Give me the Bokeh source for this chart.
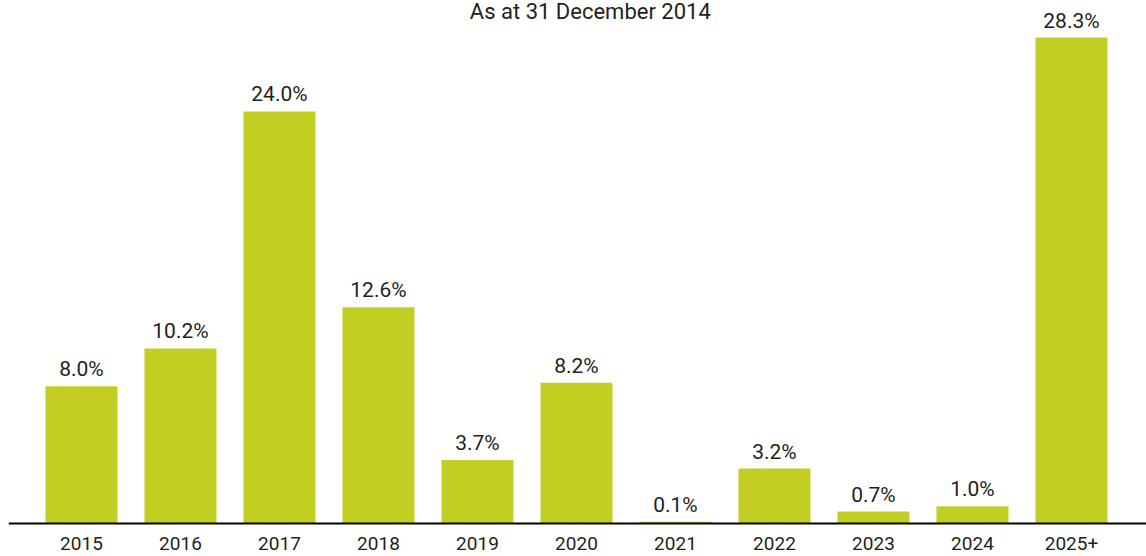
from bokeh.plotting import figure
from bokeh.models import ColumnDataSource, Range1d, FixedTicker, LabelSet, Label
from bokeh.core.properties import value
from bokeh.embed import file_html
from bokeh.resources import INLINE

categories = ["2015", "2016", "2017", "2018", "2019", "2020", "2021", "2022", "2023", "2024", "2025+"]
values = [8.0, 10.2, 24.0, 12.6, 3.7, 8.2, 0.1, 3.2, 0.7, 1.0, 28.3]
value_labels = ["%.1f%%" % v for v in values]
title_text = "As at 31 December 2014"

BAR = "#c3ce23"
TXT = "#231f20"
FONT = "Roboto"

xs = list(range(len(categories)))
src = ColumnDataSource(dict(x=xs, top=values, lab=value_labels))

p = figure(width=1146, height=556, output_backend="svg", toolbar_location=None,
           x_range=Range1d(-0.737, 10.758), y_range=Range1d(-1.92, 30.46),
           min_border=0, min_border_left=8, outline_line_color=None)

p.vbar(x="x", top="top", bottom=0, width=72 / 99, source=src, color=BAR, line_color=None)

p.add_layout(LabelSet(x="x", y="top", text="lab", source=src, y_offset=10,
                      text_align="center", text_baseline="alphabetic",
                      text_font=value(FONT), text_font_size="21px", text_color=TXT))

p.add_layout(Label(x=5.14, y=29.82, text=title_text, text_align="center",
                   text_baseline="alphabetic", text_font=FONT, text_font_size="22px",
                   text_color=TXT))

p.yaxis.visible = False
p.grid.visible = False
xa = p.xaxis[0]
xa.fixed_location = 0
xa.ticker = FixedTicker(ticks=xs)
xa.major_label_overrides = {i: c for i, c in enumerate(categories)}
xa.axis_line_color = "black"
xa.axis_line_width = 2
xa.major_tick_line_color = None
xa.minor_tick_line_color = None
xa.major_label_standoff = 7
xa.major_label_text_font = FONT
xa.major_label_text_font_size = "19px"
xa.major_label_text_color = TXT

open("out.html", "w").write(file_html(p, INLINE))
